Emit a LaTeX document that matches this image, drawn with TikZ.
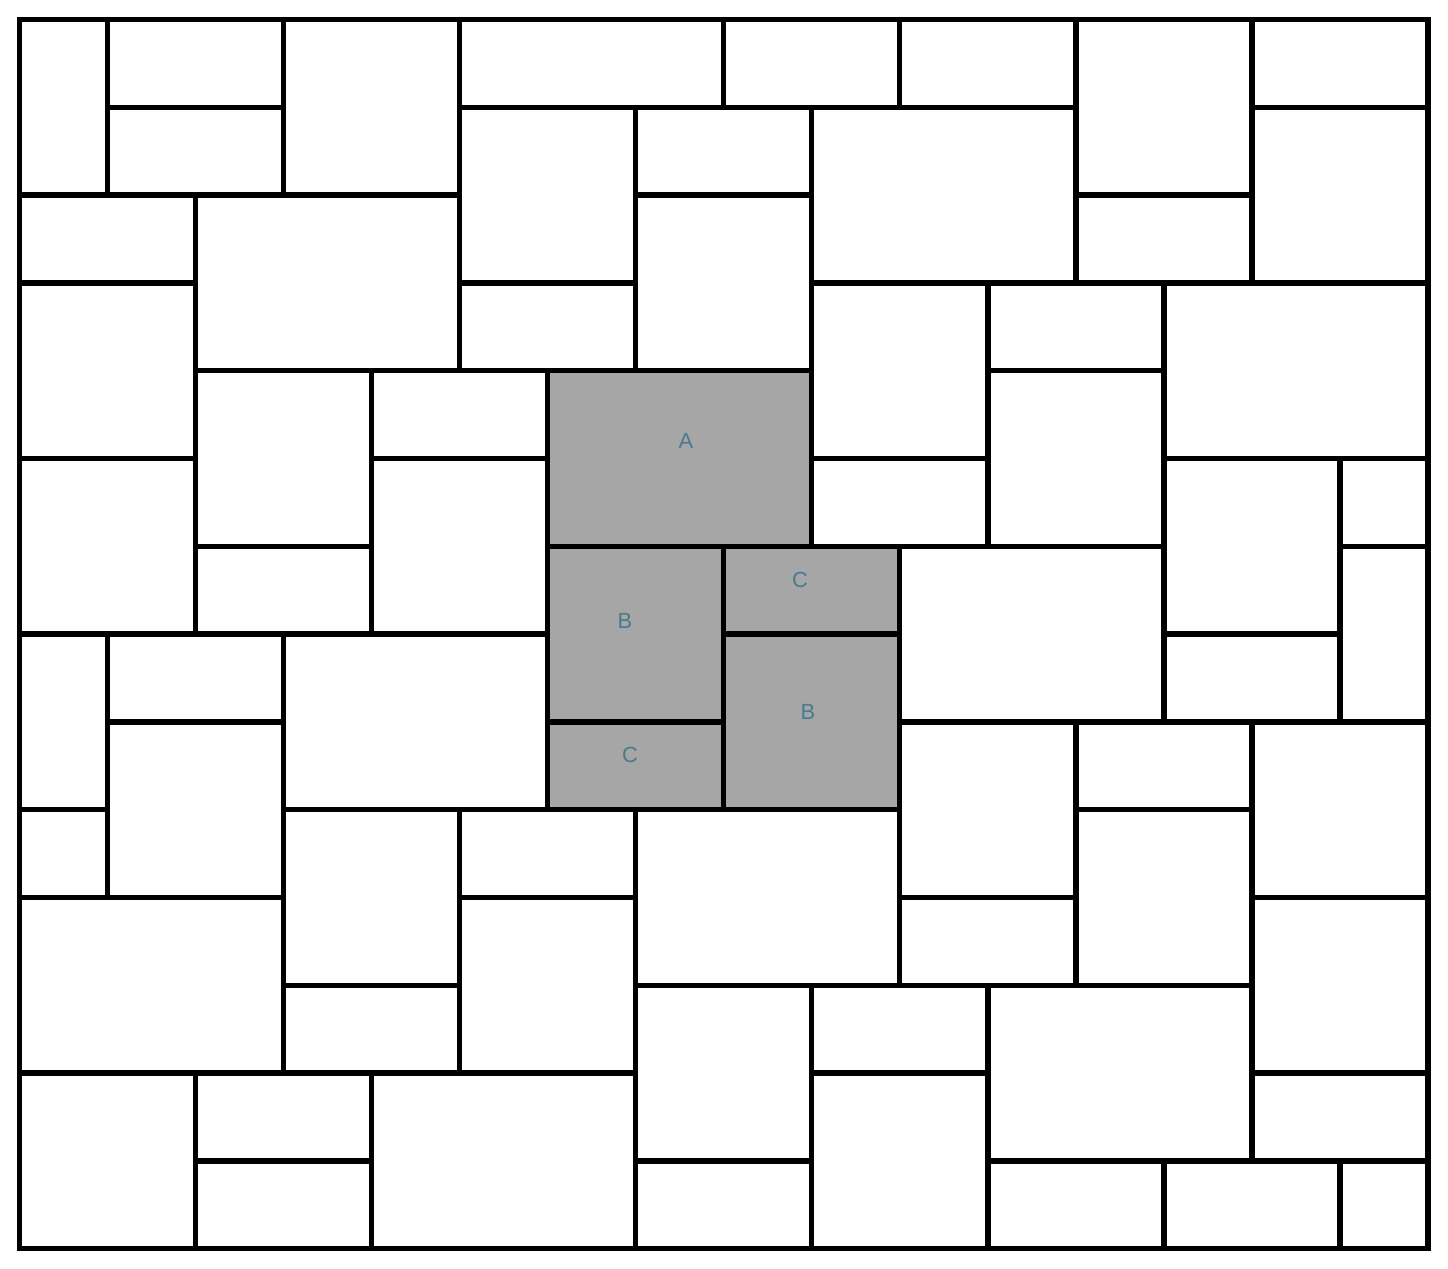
\documentclass[tikz,border=0pt]{standalone}
\usepackage{fontspec}
\setmainfont{Liberation Sans}
\definecolor{tilegray}{HTML}{A6A6A6}
\definecolor{labelblue}{HTML}{4A7A8E}
\tikzset{
  tileline/.style={draw=black, line width=5.3bp, line join=miter},
  graytile/.style={fill=tilegray},
  tilelabel/.style={text=labelblue, font=\fontsize{22}{26}\selectfont, inner sep=0pt}
}
\begin{document}
\begin{tikzpicture}[x=1bp,y=-1bp]
\useasboundingbox[fill=white] (0,0) rectangle (1448,1268);
\begin{scope}[shift={(19.5,19.5)}, x=88.03bp, y=-87.8bp]
  \foreach \a/\b/\c/\d in {6/4/9/6, 6/6/8/8, 6/8/8/9, 8/6/10/7, 8/7/10/9}
    \fill[graytile] (\a,\b) rectangle (\c,\d);
  \foreach \a/\b/\c/\d in {
    0/0/1/2, 1/0/3/1, 1/1/3/2, 3/0/5/2, 5/0/8/1, 8/0/10/1, 10/0/12/1, 12/0/14/2,
    14/0/16/1, 14/1/16/3, 12/2/14/3, 9/1/12/3, 7/1/9/2, 7/2/9/4, 5/1/7/3, 5/3/7/4,
    0/2/2/3, 2/2/5/4, 0/3/2/5, 0/5/2/7, 2/4/4/6, 2/6/4/7, 4/4/6/5, 4/5/6/7,
    9/3/11/5, 9/5/11/6, 11/3/13/4, 11/4/13/6, 13/3/16/5, 13/5/15/7, 15/5/16/6,
    15/6/16/8, 13/7/15/8, 10/6/13/8, 0/7/1/9, 1/7/3/8, 1/8/3/10, 0/9/1/10,
    3/7/6/9, 3/9/5/11, 3/11/5/12, 5/9/7/10, 5/10/7/12, 7/9/10/11, 10/8/12/10,
    10/10/12/11, 12/8/14/9, 12/9/14/11, 14/8/16/10, 14/10/16/12, 14/12/16/13,
    0/10/3/12, 0/12/2/14, 2/12/4/13, 2/13/4/14, 4/12/7/14, 7/11/9/13, 7/13/9/14,
    9/11/11/12, 9/12/11/14, 11/11/14/13, 11/13/13/14, 13/13/15/14, 15/13/16/14,
    6/4/9/6, 6/6/8/8, 6/8/8/9, 8/6/10/7, 8/7/10/9}
    \draw[tileline] (\a,\b) rectangle (\c,\d);
\end{scope}
\node[tilelabel] (la) at (686,441) {A};
\node[tilelabel] (lb1) at (625,621) {B};
\node[tilelabel] (lc1) at (800,580) {C};
\node[tilelabel] (lb2) at (808,712) {B};
\node[tilelabel] (lc2) at (630,755) {C};
\end{tikzpicture}
\end{document}
